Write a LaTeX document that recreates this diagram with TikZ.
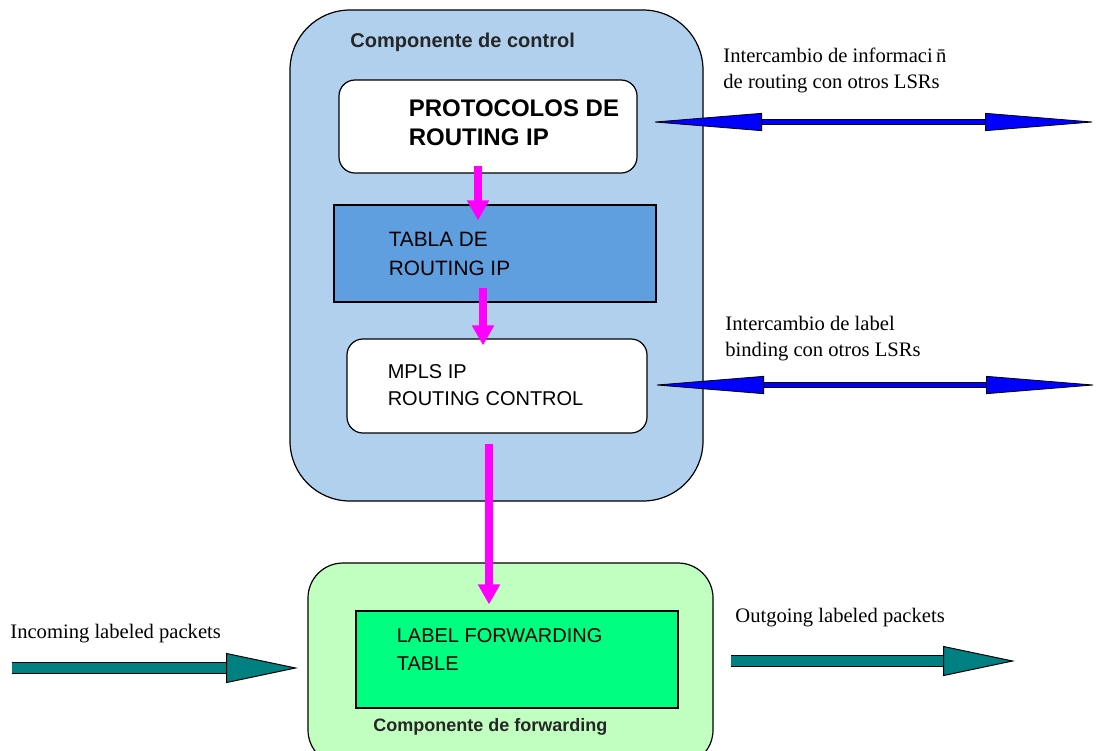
\documentclass[tikz,border=0pt]{standalone}
\usepackage{fontspec}
\setmainfont{Liberation Serif}
\setsansfont{Liberation Sans}
\usetikzlibrary{arrows.meta, positioning}
\definecolor{ctrlblue}{HTML}{B0D0EE}
\definecolor{tablablue}{HTML}{609FDF}
\definecolor{fwdgreen}{HTML}{C0FFC0}
\definecolor{lftgreen}{HTML}{00FF80}
\definecolor{flowpink}{HTML}{FF00FF}
\definecolor{pktteal}{HTML}{008080}
\definecolor{xchblue}{HTML}{0000FF}

\begin{document}
\begin{tikzpicture}[x=0.5pt, y=-0.5pt,
    font=\sffamily,
    comp/.style={draw=black, line width=0.6pt, inner sep=0pt},
    ctrlbox/.style={comp, fill=ctrlblue, rounded corners=30pt,
                    minimum width=206.5pt, minimum height=245.5pt},
    fwdbox/.style={comp, fill=fwdgreen, rounded corners=17.5pt,
                   minimum width=202.5pt, minimum height=101pt},
    wbox/.style={comp, fill=white, rounded corners=8pt},
    tbox/.style={comp, minimum width=161pt, minimum height=48.5pt},
    title/.style={font=\sffamily\bfseries\fontsize{10}{12}\selectfont, text=black!85, inner sep=0pt},
    boxtxt/.style={align=left, inner sep=0pt, font=\sffamily\fontsize{10}{14}\selectfont},
    note/.style={align=left, inner sep=0pt, font=\rmfamily\fontsize{10.3}{13}\selectfont},
    flow/.style={draw=flowpink, line width=4pt, -{Triangle[length=10pt, width=10.5pt]}},
    xchg/.style={draw=xchblue, line width=2.4pt,
                 {Triangle[length=56pt, width=9pt, line width=0.4pt, color=black, fill=xchblue]}-{Triangle[length=56pt, width=9pt, line width=0.4pt, color=black, fill=xchblue]},
                 preaction={draw=black, line width=3.2pt, -, shorten <=56pt, shorten >=56pt}},
    pkt/.style={draw=pktteal, line width=5pt,
                -{Triangle[length=36pt, width=15pt, line width=0.5pt, color=black, fill=pktteal]},
                preaction={draw=black, line width=6pt, -, shorten >=36pt}}
]
\useasboundingbox (0,0) rectangle (1101,750);
\clip (0,0) rectangle (1101,750);

% control component
\node[ctrlbox] (ctrl) at (496.5,255.5) {};
\node[title, anchor=west] (ctrltitle) at (350,42) {Componente de control};

\node[wbox, minimum width=149pt, minimum height=46.5pt] (proto) at (488,126.5) {};
\node[boxtxt, font=\sffamily\bfseries\fontsize{12}{14.5}\selectfont, right=35pt of proto.west, yshift=2pt] (protolbl) {PROTOCOLOS DE\\ROUTING IP};

\node[tbox, fill=tablablue] (tabla) at (495,253.5) {};
\node[boxtxt, font=\sffamily\fontsize{10.4}{14.5}\selectfont, right=27.5pt of tabla.west] (tablalbl) {TABLA DE\\ROUTING IP};

\node[wbox, minimum width=150pt, minimum height=47pt] (mpls) at (497,386) {};
\node[boxtxt, font=\sffamily\fontsize{10}{13.5}\selectfont, right=20.5pt of mpls.west, yshift=0.5pt] (mplslbl) {MPLS IP\\ROUTING CONTROL};

% forwarding component
\node[fwdbox] (fwd) at (510.5,664) {};
\node[tbox, fill=lftgreen] (lft) at (517,659.5) {};
\node[boxtxt, right=20.5pt of lft.west, yshift=5pt] (lftlbl) {LABEL FORWARDING\\TABLE};
\node[title, font=\sffamily\bfseries\fontsize{9}{11}\selectfont, anchor=west] (fwdtitle) at (373,727) {Componente de forwarding};

% internal flow
\draw[flow] ([xshift=-5pt, yshift=4pt]proto.south) -- ([xshift=-8.5pt, yshift=-8pt]tabla.north);
\draw[flow] ([xshift=-6pt, yshift=7.5pt]tabla.south) -- ([xshift=-7pt, yshift=-3.5pt]mpls.north);
\draw[flow] ([xshift=-4pt, yshift=-5pt]mpls.south) -- ([xshift=-14pt, yshift=3pt]lft.north);

% exchanges with other LSRs
\coordinate (rtA) at (650,122);
\coordinate (rtB) at (1097,122);
\coordinate (lbA) at (652,385);
\coordinate (lbB) at (1098,385);
\draw[xchg] (rtA) -- (rtB);
\draw[xchg] (lbA) -- (lbB);
\node[note, anchor=west] (rtlbl) at (723,70) {Intercambio de informaci\,\=n\\de routing con otros LSRs};
\node[note, anchor=west] (lblbl) at (725,338.5) {Intercambio de label\\binding con otros LSRs};

% labeled packets
\coordinate (inA) at (12,668);
\coordinate (inB) at (298,668);
\coordinate (outA) at (731,661);
\coordinate (outB) at (1015,661);
\draw[pkt] (inA) -- (inB);
\draw[pkt] (outA) -- (outB);
\node[note, anchor=west] (inlbl) at (10,634) {Incoming labeled packets};
\node[note, anchor=west] (outlbl) at (735,618) {Outgoing labeled packets};

\end{tikzpicture}
\end{document}
